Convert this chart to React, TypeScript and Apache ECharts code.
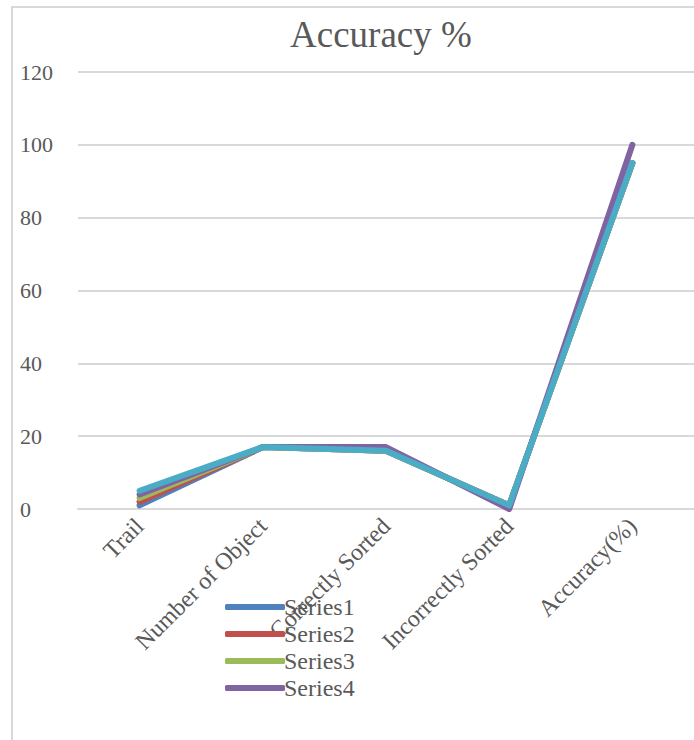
import React, { useEffect, useRef } from "react";
import * as echarts from "echarts";

const categories = ["Trail", "Number of Object", "Correctly Sorted", "Incorrectly Sorted", "Accuracy(%)"];
const seriesNames = ["Series1", "Series2", "Series3", "Series4", "Series5"];
const series1 = [1, 17, 16, 1, 95];
const series2 = [2, 17, 16, 1, 95];
const series3 = [3, 17, 16, 1, 95];
const series4 = [4, 17, 17, 0, 100];
const series5 = [5, 17, 16, 1, 95];
const yTicks = { min: 0, max: 120, interval: 20 };
const colors = ["#4F81BD", "#C0504D", "#9BBB59", "#8064A2", "#4BACC6"];
const legendNames = ["Series1", "Series2", "Series3", "Series4"];

const FONT = "Liberation Serif";

export default function App() {
  const ref = useRef<HTMLDivElement>(null);
  useEffect(() => {
    if (!ref.current) return;
    const chart = echarts.init(ref.current, null, { renderer: "svg" });
    const all = [series1, series2, series3, series4, series5];
    chart.setOption({
      animation: false,
      backgroundColor: "#ffffff",
      color: colors,
      title: {
        text: "Accuracy %",
        left: 285,
        top: 11,
        textStyle: { fontFamily: FONT, fontSize: 37, fontWeight: "normal", color: "#595959" },
      },
      graphic: [
        {
          type: "rect",
          shape: { x: 12, y: 7, width: 700, height: 760 },
          style: { fill: "none", stroke: "#d9d9d9", lineWidth: 2 },
          silent: true,
        },
      ],
      legend: {
        data: legendNames,
        orient: "vertical",
        left: 220,
        top: 590,
        itemWidth: 60,
        itemHeight: 6,
        itemGap: 3,
        textStyle: { fontFamily: FONT, fontSize: 24, color: "#595959", padding: [0, 0, 0, -6] },
        icon: "roundRect",
      },
      grid: { left: 78, right: -4, top: 72, bottom: 231, containLabel: false },
      xAxis: {
        type: "category",
        data: categories,
        boundaryGap: true,
        axisLine: { lineStyle: { color: "#d9d9d9", width: 2 } },
        axisTick: { show: false },
        axisLabel: {
          rotate: 45,
          interval: 0,
          margin: 13,
          fontFamily: FONT,
          fontSize: 24,
          color: "#595959",
        },
      },
      yAxis: {
        type: "value",
        min: yTicks.min,
        max: yTicks.max,
        interval: yTicks.interval,
        axisLine: { show: false },
        axisTick: { show: false },
        splitLine: { lineStyle: { color: "#d9d9d9", width: 2 } },
        axisLabel: {
          align: "left",
          margin: 58,
          fontFamily: FONT,
          fontSize: 22,
          color: "#595959",
        },
      },
      series: seriesNames.map((name, i) => ({
        name,
        type: "line",
        data: all[i],
        symbol: "none",
        lineStyle: { width: 6, color: colors[i], cap: "round", join: "round" },
        itemStyle: { color: colors[i] },
      })),
    });
    return () => chart.dispose();
  }, []);
  return (
    <div
      ref={ref}
      style={{ position: "absolute", left: 0, top: 0, width: 694, height: 740, overflow: "hidden" }}
    />
  );
}
